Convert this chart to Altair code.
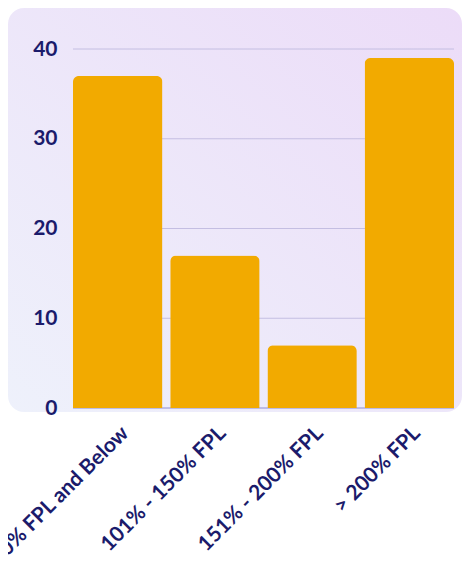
import altair as alt
import pandas as pd

categories = ["100% FPL and Below", "101% - 150% FPL", "151% - 200% FPL", "> 200% FPL"]
values = [37, 17, 7, 39]
y_ticks = [0, 10, 20, 30, 40]

W, H = 381, 359
NAVY = "#1B1B6B"
BAR = "#F2AA00"
GRID = "#C4BEE2"
ZERO = "#8C8CD2"

df = pd.DataFrame({"category": categories, "value": values})
grid_df = pd.DataFrame({"value": y_ticks, "kind": ["zero"] + ["grid"] * (len(y_ticks) - 1)})

yscale = alt.Scale(domain=[0, 40], nice=False)
yaxis = alt.Axis(values=y_ticks, grid=False, domain=False, ticks=False,
                 labelFont="Lato", labelFontWeight="bold", labelFontSize=21,
                 labelColor=NAVY, labelPadding=16, title=None, zindex=1)

bg = alt.Chart(pd.DataFrame({"a": [0]})).mark_rect(
    cornerRadius=16,
    color=alt.LinearGradient(
        gradient="linear", x1=0, y1=1, x2=1, y2=0,
        stops=[alt.GradientStop(color="#EEF1FB", offset=0),
               alt.GradientStop(color="#ECDCF8", offset=1)],
    ),
).encode(x=alt.value(-65), x2=alt.value(W + 8), y=alt.value(-41), y2=alt.value(H + 4))

rules = alt.Chart(grid_df).mark_rule(strokeWidth=1).encode(
    y=alt.Y("value:Q", scale=yscale, axis=yaxis),
    color=alt.Color("kind:N", scale=alt.Scale(domain=["zero", "grid"], range=[ZERO, GRID]), legend=None),
)

bars = alt.Chart(df).mark_bar(color=BAR, cornerRadiusTopLeft=6, cornerRadiusTopRight=6).encode(
    x=alt.X("category:N", sort=categories,
            scale=alt.Scale(paddingInner=0.08, paddingOuter=0),
            axis=alt.Axis(labelAngle=-45, labelFont="Lato", labelFontWeight="bold",
                          labelFontSize=21, labelColor=NAVY, labelPadding=14,
                          labelLimit=0, labelOverlap=False,
                          domain=False, ticks=False, title=None, zindex=1)),
    y=alt.Y("value:Q", scale=yscale, axis=yaxis),
)

chart = alt.layer(bg, rules, bars).properties(
    width=W, height=H,
    autosize=alt.AutoSizeParams(type="none"),
    padding={"left": 65, "top": 41, "right": 8, "bottom": 159},
).configure_view(stroke=None)

chart.save("out.html", embed_options={"renderer": "svg", "actions": False})
